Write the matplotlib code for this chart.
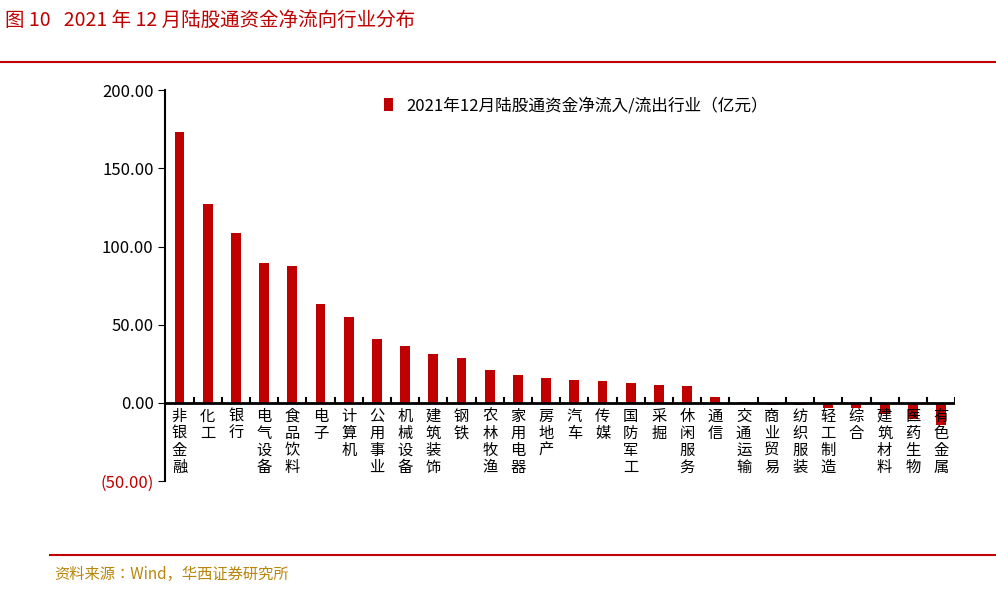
import matplotlib
matplotlib.use("Agg")
import matplotlib.pyplot as plt
from matplotlib import font_manager
from matplotlib.ticker import FuncFormatter

cjk = [f.name for f in font_manager.fontManager.ttflist if "CJK" in f.name]
pref = [n for n in ["Noto Sans CJK SC", "Noto Sans CJK JP"] if n in cjk] + cjk
cjk_font = pref[0] if pref else "DejaVu Sans"
plt.rcParams["font.family"] = [cjk_font, "DejaVu Sans"]

categories = ["非银金融","化工","银行","电气设备","食品饮料","电子","计算机","公用事业","机械设备","建筑装饰",
              "钢铁","农林牧渔","家用电器","房地产","汽车","传媒","国防军工","采掘","休闲服务","通信",
              "交通运输","商业贸易","纺织服装","轻工制造","综合","建筑材料","医药生物","有色金属"]
values = [173.5,127,108.5,89.5,87.5,63.5,55,41,36.5,31.5,28.5,21,18,16,14.7,14,12.8,11.5,11,3.8,
          0.5,-1,-1.5,-3,-3,-7,-10,-14]
yticks = [-50, 0, 50, 100, 150, 200]
legend_label = "2021年12月陆股通资金净流入/流出行业（亿元）"
red = "#C00000"

fig = plt.figure(figsize=(9.96, 5.89), dpi=100)
ax = fig.add_axes([0.166, 0.183, 0.793, 0.664])
x = list(range(len(categories)))
ax.bar(x, values, width=0.35, color=red, label=legend_label)
ax.set_ylim(-50, 200)
ax.set_xlim(-0.5, len(categories) - 0.5)
ax.set_yticks(yticks)
ax.yaxis.set_major_formatter(FuncFormatter(lambda v, p: f"({abs(v):.2f})" if v < 0 else f"{v:.2f}"))
for lbl, v in zip(ax.get_yticklabels(), yticks):
    if v < 0:
        lbl.set_color(red)
ax.tick_params(axis="y", labelsize=12, length=5, direction="out")
for s in ["top", "right", "bottom"]:
    ax.spines[s].set_visible(False)
ax.spines["left"].set_linewidth(1.5)
ax.axhline(0, color="black", lw=2)
for b in [i + 0.5 for i in range(len(categories))]:
    ax.plot([b, b], [0, 3.5], color="black", lw=1.5)
ax.set_xticks([])
for xi, c in zip(x, categories):
    ax.text(xi, -3, "\n".join(c), ha="center", va="top", fontsize=11, linespacing=1.0)
ax.legend(loc="upper center", bbox_to_anchor=(0.52, 1.02), frameon=False, fontsize=12,
          handlelength=0.5, handleheight=0.8)

fig.text(0.005, 0.965, "图 10   2021 年 12 月陆股通资金净流向行业分布", color=red, fontsize=14,
         va="center", ha="left")
fig.add_artist(matplotlib.lines.Line2D([0.0, 1.0], [0.895, 0.895], color=red, lw=1.5))
fig.add_artist(matplotlib.lines.Line2D([0.05, 1.0], [0.058, 0.058], color=red, lw=1.5))
fig.text(0.055, 0.025, "资料来源：Wind，华西证券研究所", color="#B8860B", fontsize=11, va="center")
fig.savefig("out.png", dpi=100)
